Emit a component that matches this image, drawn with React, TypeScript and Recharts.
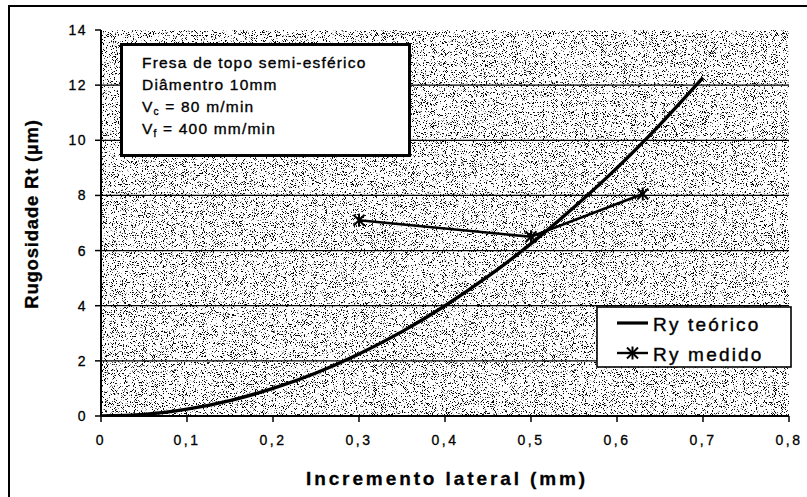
import React from 'react';
import { LineChart, Line, XAxis, YAxis, CartesianGrid, ReferenceLine, Legend } from 'recharts';

// ---- data ----
const xTicks = [0, 0.1, 0.2, 0.3, 0.4, 0.5, 0.6, 0.7, 0.8];
const yTicks = [0, 2, 4, 6, 8, 10, 12, 14];
const gridLevels = [2, 4, 6, 8, 10, 12];

const teoricoX = [0, 0.05, 0.1, 0.15, 0.2, 0.25, 0.3, 0.35, 0.4, 0.45, 0.5, 0.55, 0.6, 0.65, 0.7];
const teoricoY = [0, 0.06, 0.25, 0.56, 1.0, 1.56, 2.25, 3.06, 4.0, 5.06, 6.25, 7.57, 9.0, 10.57, 12.27];

const medidoX = [0.3, 0.5, 0.63];
const medidoY = [7.1, 6.5, 8.05];

const seriesNames = ['Ry teórico', 'Ry medido'];
const xTitle = 'Incremento lateral (mm)';
const yTitle = 'Rugosidade Rt (µm)';
const noteTitle = ['Fresa de topo semi-esférico', 'Diâmentro 10mm'];
const noteSpeeds = [
  { sym: 'V', sub: 'c', rest: ' = 80 m/min' },
  { sym: 'V', sub: 'f', rest: ' = 400 mm/min' },
];

const teoricoData = teoricoX.map((x, i) => ({ x, y: teoricoY[i] }));
const medidoData = medidoX.map((x, i) => ({ x, y: medidoY[i] }));

const FONT = 'Arial, "Liberation Sans", Helvetica, sans-serif';

const fmtX = (v: number) => (v === 0 ? '0' : v.toFixed(1).replace('.', ','));

const Star = (props: any) => {
  const { cx, cy, index } = props;
  if (cx == null || cy == null) return <g key={`s-${index}`} />;
  const r = 5.5;
  return (
    <g key={`s-${index}`} stroke="#000" strokeWidth={2}>
      <line x1={cx - r} y1={cy - r} x2={cx + r} y2={cy + r} />
      <line x1={cx - r} y1={cy + r} x2={cx + r} y2={cy - r} />
      <line x1={cx} y1={cy - r - 1} x2={cx} y2={cy + r + 1} />
    </g>
  );
};

const renderLegend = () => (
  <svg width={196} height={62} style={{ display: 'block' }}>
    <rect x={1} y={1} width={194} height={60} fill="#fff" stroke="#000" strokeWidth={1.6} />
    <line x1={21} y1={17} x2={52} y2={17} stroke="#000" strokeWidth={3.2} />
    <text x={57} y={25} fontFamily={FONT} fontSize={19} letterSpacing={2.2} fill="#000" stroke="#000" strokeWidth={0.4}>{seriesNames[0]}</text>
    <line x1={21} y1={47} x2={52} y2={47} stroke="#000" strokeWidth={2.4} />
    <Star cx={36.5} cy={47} index={99} />
    <text x={57} y={55} fontFamily={FONT} fontSize={19} letterSpacing={2.2} fill="#000" stroke="#000" strokeWidth={0.4}>{seriesNames[1]}</text>
  </svg>
);

export default function App() {
  return (
    <div style={{ position: 'absolute', left: 0, top: 0, width: 807, height: 497, background: '#fff' }}>
      <svg width={0} height={0} style={{ position: 'absolute' }}>
        <defs>
          <filter id="noiseF" x="0" y="0" width="1" height="1" colorInterpolationFilters="sRGB">
            <feTurbulence type="fractalNoise" baseFrequency="1.1" numOctaves={2} seed={7} result="t" />
            <feColorMatrix in="t" type="matrix" values="0 0 0 0 0  0 0 0 0 0  0 0 0 0 0  16 0 0 0 -9.5" />
          </filter>
          <pattern id="stipple" x="0" y="0" width="400" height="400" patternUnits="userSpaceOnUse">
            <rect x="0" y="0" width="400" height="400" fill="#fff" />
            <rect x="0" y="0" width="400" height="400" fill="#fff" filter="url(#noiseF)" />
          </pattern>
        </defs>
      </svg>
      <LineChart width={807} height={497} margin={{ top: 30, right: 18, bottom: 0, left: 0 }}>
        <CartesianGrid fill="url(#stipple)" horizontal={false} vertical={false} />
        {gridLevels.map((g) => (
          <ReferenceLine key={g} y={g} stroke="#000" strokeWidth={1.3} />
        ))}
        <XAxis
          dataKey="x"
          type="number"
          domain={[0, 0.8]}
          ticks={xTicks}
          tickFormatter={fmtX}
          height={81}
          axisLine={{ stroke: '#000', strokeWidth: 2 }}
          tickLine={{ stroke: '#000', strokeWidth: 1.5 }}
          tickSize={6}
          tickMargin={13}
          tick={{ fill: '#000', fontSize: 14, fontFamily: FONT, letterSpacing: 2.5, stroke: '#000', strokeWidth: 0.3 }}
          allowDataOverflow
        />
        <YAxis
          type="number"
          domain={[0, 14]}
          ticks={yTicks}
          width={101}
          axisLine={{ stroke: '#000', strokeWidth: 2 }}
          tickLine={{ stroke: '#000', strokeWidth: 1.5 }}
          tickSize={6}
          tickMargin={8}
          tick={{ fill: '#000', fontSize: 14, fontFamily: FONT, letterSpacing: 1.5, stroke: '#000', strokeWidth: 0.3 }}
          allowDataOverflow
        />
        <Line
          data={teoricoData}
          dataKey="y"
          name={seriesNames[0]}
          type="monotone"
          stroke="#000"
          strokeWidth={3.4}
          dot={false}
          isAnimationActive={false}
        />
        <Line
          data={medidoData}
          dataKey="y"
          name={seriesNames[1]}
          type="linear"
          stroke="#000"
          strokeWidth={2.6}
          dot={Star}
          isAnimationActive={false}
        />
        <Legend
          layout="horizontal"
          verticalAlign="middle"
          align="center"
          wrapperStyle={{ left: 596, top: 306, width: 196, height: 62 }}
          content={renderLegend}
        />
      </LineChart>
      <svg
        width={807}
        height={497}
        style={{ position: 'absolute', left: 0, top: 0, pointerEvents: 'none' }}
      >
        <line x1={8} y1={6} x2={807} y2={6} stroke="#000" strokeWidth={2} />
        <line x1={9} y1={5} x2={9} y2={497} stroke="#000" strokeWidth={2} />
        <rect x={121.5} y={44.5} width={288} height={111} fill="#fff" stroke="#000" strokeWidth={3} />
        {noteTitle.map((t, i) => (
          <text key={t} x={142} y={68 + i * 22} fontFamily={FONT} fontSize={15.5} letterSpacing={1.2} fill="#000" stroke="#000" strokeWidth={0.35}>
            {t}
          </text>
        ))}
        {noteSpeeds.map((s, i) => (
          <text key={s.sub} x={142} y={112 + i * 22} fontFamily={FONT} fontSize={15.5} letterSpacing={1.2} fill="#000" stroke="#000" strokeWidth={0.35}>
            <tspan>{s.sym}</tspan>
            <tspan fontSize={10} dy={3}>{s.sub}</tspan>
            <tspan dy={-3}>{s.rest}</tspan>
          </text>
        ))}
        <text
          x={447}
          y={485}
          textAnchor="middle"
          fontFamily={FONT}
          fontSize={19}
          fontWeight="bold"
          letterSpacing={2.9}
          fill="#000"
          stroke="#000"
          strokeWidth={0.3}
        >
          {xTitle}
        </text>
        <text
          x={0}
          y={0}
          transform="translate(38,214) rotate(-90)"
          textAnchor="middle"
          fontFamily={FONT}
          fontSize={18.5}
          fontWeight="bold"
          letterSpacing={0.8}
          fill="#000"
          stroke="#000"
          strokeWidth={0.3}
        >
          {yTitle}
        </text>
      </svg>
    </div>
  );
}
